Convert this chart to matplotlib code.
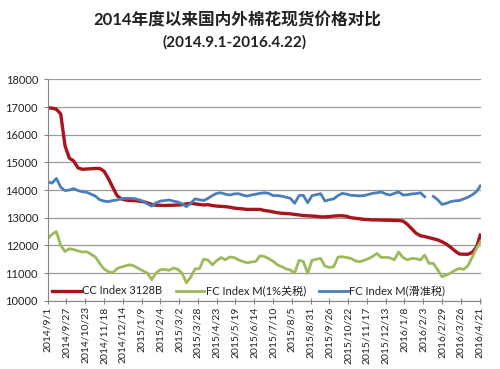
import numpy as np
import pandas as pd
import matplotlib
matplotlib.use("Agg")
import matplotlib.pyplot as plt

plt.rcParams['font.family'] = ['Lato', 'Noto Sans CJK SC', 'DejaVu Sans']

# sample dates (every 6 days) plus the last day
dates = pd.date_range("2014-09-01", periods=100, freq="6D").append(pd.DatetimeIndex(["2016-04-22"]))

# CC Index 3128B
cc_index = [
    16970, 16960, 16920, 16750, 15600, 15150, 15050, 14800, 14750, 14760,
    14770, 14780, 14780, 14680, 14420, 14100, 13800, 13680, 13640, 13620,
    13620, 13600, 13580, 13540, 13480, 13450, 13450, 13440, 13450, 13450,
    13460, 13470, 13500, 13520, 13500, 13480, 13460, 13470, 13440, 13420,
    13410, 13400, 13380, 13350, 13330, 13320, 13300, 13300, 13300, 13300,
    13260, 13240, 13210, 13180, 13160, 13150, 13140, 13120, 13100, 13080,
    13070, 13060, 13050, 13030, 13030, 13040, 13060, 13070, 13070, 13050,
    13000, 12980, 12960, 12940, 12930, 12920, 12920, 12915, 12910, 12910,
    12900, 12900, 12880, 12760, 12600, 12440, 12350, 12320, 12280, 12240,
    12200, 12130, 12050, 11930, 11800, 11690, 11680, 11680, 11750, 11950,
    12370,
]

# FC Index M (1% tariff)
fc_1pct = [
    12250, 12400, 12500, 12000, 11780, 11880, 11850, 11800, 11760, 11770,
    11680, 11580, 11350, 11150, 11050, 11010, 11160, 11220, 11260, 11300,
    11250, 11160, 11080, 11000, 10760, 11000, 11120, 11130, 11100, 11180,
    11140, 11000, 10650, 10850, 11150, 11160, 11500, 11470, 11300, 11450,
    11560, 11480, 11580, 11560, 11480, 11420, 11370, 11400, 11420, 11620,
    11600, 11520, 11430, 11300, 11230, 11150, 11110, 11000, 11460, 11420,
    10990, 11460, 11500, 11530, 11250, 11200, 11230, 11580, 11590, 11560,
    11530, 11440, 11410, 11460, 11520, 11600, 11710, 11560, 11570, 11550,
    11480, 11760, 11560, 11480, 11530, 11520, 11470, 11650, 11350, 11350,
    11120, 10870, 10930, 11000, 11100, 11170, 11130, 11270, 11580, 11900,
    12120,
]

# FC Index M (sliding tariff), gap around the Spring Festival
fc_sliding = [
    14300, 14250, 14420, 14100, 13980, 14000, 14050, 13980, 13940, 13920,
    13850, 13780, 13650, 13600, 13580, 13620, 13640, 13690, 13700, 13700,
    13690, 13650, 13600, 13500, 13420, 13540, 13600, 13620, 13640, 13600,
    13570, 13500, 13400, 13520, 13680, 13650, 13620, 13700, 13800, 13880,
    13900, 13850, 13820, 13860, 13870, 13820, 13780, 13820, 13850, 13880,
    13900, 13880, 13800, 13800, 13780, 13740, 13700, 13520, 13800, 13810,
    13540, 13800, 13830, 13870, 13600, 13650, 13680, 13800, 13880, 13850,
    13810, 13800, 13790, 13800, 13840, 13880, 13900, 13930, 13860, 13820,
    13880, 13930, 13820, 13830, 13860, 13870, 13900, 13760, np.nan, 13770,
    13650, 13480, 13520, 13580, 13610, 13620, 13680, 13740, 13830, 13950,
    14150,
]

labels = ["CC Index 3128B", "FC Index M(1%关税)", "FC Index M(滑准税)"]
colors = ["#A8141E", "#9BBB59", "#4A7EBB"]

tick_dates = pd.date_range("2014-09-01", periods=24, freq="26D")
tick_labels = [f"{d.year}/{d.month}/{d.day}" for d in tick_dates]

fig = plt.figure(figsize=(5, 3.69), dpi=100)
ax = fig.add_axes([0.0954, 0.185, 0.8666, 0.600])

ax.plot(dates, cc_index, color=colors[0], lw=2.4, label=labels[0])
ax.plot(dates, fc_1pct, color=colors[1], lw=2.0, label=labels[1])
ax.plot(dates, fc_sliding, color=colors[2], lw=2.0, label=labels[2])

ax.set_ylim(10000, 18000)
ax.set_yticks(range(10000, 18001, 1000))
ax.set_xlim(pd.Timestamp("2014-09-01"), pd.Timestamp("2014-09-01") + pd.Timedelta(days=600))
ax.set_xticks(tick_dates)
ax.set_xticklabels(tick_labels, rotation=90, fontsize=7.5)
ax.tick_params(axis='y', labelsize=8, length=3, color="#868686", labelcolor="#222222", pad=4)
ax.tick_params(axis='x', length=4, color="#868686", labelcolor="#222222", direction='inout', pad=2)

ax.grid(axis='y', color="#9a9a9a", lw=0.9)
ax.set_axisbelow(True)
for side in ["top", "right"]:
    ax.spines[side].set_visible(False)
for side in ["left", "bottom"]:
    ax.spines[side].set_color("#868686")

ax.legend(loc='center left', bbox_to_anchor=(0.0, 0.044), ncol=3, frameon=False,
          fontsize=8, handlelength=2.6, columnspacing=1.2, handletextpad=0.1,
          borderaxespad=0, labelcolor="#222222")

fig.text(0.475, 0.946, "2014年度以来国内外棉花现货价格对比", ha='center', va='center',
         fontsize=12, fontweight='bold', color="#222222")
fig.text(0.47, 0.886, "(2014.9.1-2016.4.22)", ha='center', va='center',
         fontsize=11, fontweight='bold', color="#222222")

fig.savefig("out.png", dpi=100)
